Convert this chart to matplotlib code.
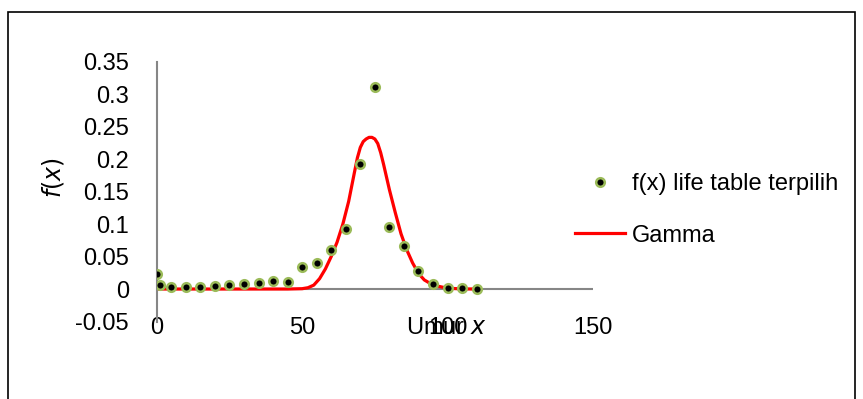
import numpy as np
import matplotlib.pyplot as plt
from matplotlib.patches import Rectangle

# data
umur = [0, 1, 5, 10, 15, 20, 25, 30, 35, 40, 45, 50, 55, 60, 65, 70, 75, 80, 85, 90, 95, 100, 105, 110]
fx = [0.0226, 0.0056, 0.0026, 0.0026, 0.0036, 0.0046, 0.0062, 0.0077, 0.0098, 0.0128, 0.0113,
      0.0344, 0.0395, 0.060, 0.0919, 0.1924, 0.3115, 0.096, 0.0662, 0.0282, 0.0072, 0.0015, 0.0015, 0.0005]

x_gamma = [0, 10, 20, 30, 40, 45, 50, 52, 54, 56, 58, 60, 62, 64, 66, 68, 69, 70, 71, 72, 73, 74,
           75, 76, 77, 78, 80, 82, 84, 86, 88, 90, 92, 95, 100, 105, 110]
y_gamma = [0, 0, 0, 0, 0, 0, 0.0005, 0.002, 0.006, 0.016, 0.031, 0.050, 0.072, 0.100, 0.135,
           0.180, 0.202, 0.218, 0.227, 0.231, 0.2335, 0.2335, 0.231, 0.224, 0.210, 0.192,
           0.153, 0.118, 0.085, 0.060, 0.040, 0.024, 0.014, 0.006, 0.0012, 0.0002, 0.0]

plt.rcParams['font.family'] = ['Liberation Sans', 'DejaVu Sans']
fs = 17

W, H = 863, 399
fig = plt.figure(figsize=(W/100, H/100), dpi=100)
ax = fig.add_axes([156.7/W, 1-321.5/H, (593-156.7)/W, (321.5-61.7)/H])

ax.plot(x_gamma, y_gamma, color='#FF0000', lw=2.3, label='Gamma', zorder=2)
ax.plot(umur, fx, ls='none', marker='o', ms=6.2, mfc='black', mec='#9BBB59', mew=1.8,
        label='f(x) life table terpilih', zorder=3)

ax.set_xlim(0, 150)
ax.set_ylim(-0.05, 0.35)
ax.set_xticks([0, 50, 100, 150])
ax.set_yticks([-0.05, 0, 0.05, 0.1, 0.15, 0.2, 0.25, 0.3, 0.35])
ax.set_yticklabels(['-0.05', '0', '0.05', '0.1', '0.15', '0.2', '0.25', '0.3', '0.35'])
ax.axhline(0, color='#868686', lw=1.5, zorder=1)
for s in ['top', 'right', 'bottom']:
    ax.spines[s].set_visible(False)
ax.spines['left'].set_color('#868686')
ax.spines['left'].set_linewidth(1.5)
ax.tick_params(length=0, labelsize=fs)
ax.tick_params(axis='y', pad=20)
ax.tick_params(axis='x', pad=-3)
ax.patch.set_alpha(0)

fig.text(446/W, 1-328/H, 'Umur $x$', ha='center', va='center', fontsize=fs)
fig.text(53/W, 1-178/H, '$f(x)$', ha='center', va='center', rotation=90, fontsize=fs)

h, l = ax.get_legend_handles_labels()
fig.legend([h[1], h[0]], [l[1], l[0]], loc='center left', bbox_to_anchor=(575/W, 1-210/H),
           frameon=False, fontsize=fs, handlelength=2.1, handletextpad=0.3, labelspacing=1.25,
           borderaxespad=0, borderpad=0)

fig.add_artist(Rectangle((8/W, -0.1), (855-8)/W, 1.1-12/H, transform=fig.transFigure,
                         fill=False, ec='black', lw=1.2))

fig.savefig('out.png', dpi=100)
